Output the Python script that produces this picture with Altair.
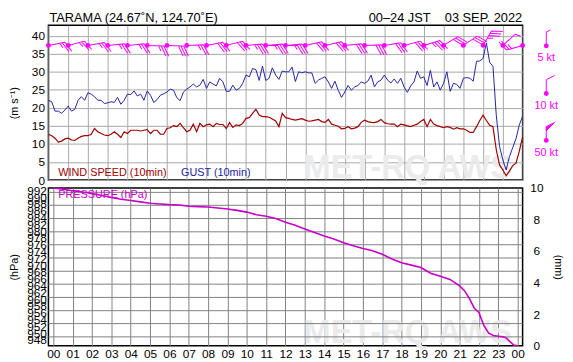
import altair as alt
import pandas as pd

# ---------------- data ----------------
# 10-minute wind speed and gust (m/s), 00:00 .. 24:00
speed = [12.7, 12.3, 11.6, 10.5, 10.8, 11.4, 11.6, 11.1, 11.0, 11.6,
         12.1, 12.3, 12.3, 12.7, 14.3, 13.4, 12.9, 12.5, 12.3, 12.7,
         13.4, 12.7, 11.8, 13.4, 12.9, 13.8, 13.8, 13.8, 13.6, 13.8,
         14.0, 12.9, 13.8, 13.8, 12.7, 12.7, 14.3, 14.5, 15.1, 14.8,
         15.7, 14.5, 13.4, 13.8, 15.5, 13.4, 15.7, 14.8, 15.3, 15.5,
         14.8, 15.7, 15.4, 15.4, 14.3, 15.9, 14.6, 15.3, 15.1, 15.7,
         17.1, 17.3, 18.5, 19.6, 18.0, 17.6, 17.6, 17.4, 16.9, 16.4,
         14.8, 18.5, 17.3, 17.1, 16.8, 16.6, 16.8, 17.0, 16.6, 16.3,
         16.4, 16.6, 16.8, 16.2, 16.0, 16.8, 15.5, 15.2, 14.9, 14.2,
         14.3, 14.8, 14.2, 14.4, 14.8, 16.0, 16.6, 16.2, 16.0, 15.9,
         16.2, 16.8, 15.9, 15.6, 15.5, 15.5, 14.8, 15.5, 15.3, 15.0,
         14.8, 15.2, 15.5, 16.2, 16.8, 14.8, 16.8, 15.5, 15.1, 14.8,
         14.5, 14.8, 14.6, 14.1, 14.5, 14.2, 14.2, 13.8, 13.2, 13.2,
         14.8, 16.5, 18.0, 16.5, 15.2, 14.8, 8.4, 4.2, 2.8, 1.2,
         2.5, 4.0, 4.7, 8.0, 12.0]
gust = [22.1, 21.7, 19.1, 19.1, 18.5, 19.4, 20.5, 19.1, 19.6, 22.1,
        23.1, 22.1, 24.2, 23.8, 23.1, 22.1, 22.1, 21.2, 21.4, 21.7,
        21.5, 22.9, 21.0, 22.1, 23.8, 23.7, 24.7, 23.3, 23.8, 22.1,
        24.7, 23.5, 21.5, 22.3, 23.5, 23.9, 24.4, 25.2, 24.9, 22.8,
        22.0, 24.4, 25.2, 25.8, 26.6, 25.8, 26.3, 27.9, 25.4, 27.2,
        26.6, 26.1, 28.2, 27.2, 24.6, 24.6, 26.3, 24.9, 25.4, 26.8,
        29.1, 28.6, 30.9, 30.6, 27.6, 31.6, 27.6, 28.2, 31.1, 29.1,
        27.9, 30.2, 30.0, 30.0, 31.3, 27.3, 30.0, 29.7, 30.0, 29.7,
        29.7, 26.8, 27.7, 28.2, 28.6, 27.2, 25.4, 27.4, 24.9, 22.9,
        24.4, 26.2, 24.9, 25.8, 26.2, 27.2, 26.8, 27.4, 29.1, 25.8,
        27.2, 27.7, 29.1, 27.7, 26.9, 28.0, 26.8, 28.2, 25.8, 24.3,
        26.1, 27.2, 30.2, 28.2, 28.6, 26.2, 30.4, 25.8, 27.2, 24.9,
        26.8, 30.0, 24.6, 26.8, 26.5, 25.4, 28.2, 28.4, 28.2, 27.4,
        32.9, 33.0, 33.7, 38.0, 32.6, 31.5, 18.0, 9.3, 5.6, 2.8,
        6.5, 9.0, 11.5, 15.3, 17.6]

# hourly wind direction (degrees, direction the wind blows from), 00 .. 24
barb_dir = [79, 75, 80, 84, 84, 92, 92, 88, 79, 75, 85, 85, 85,
            77, 77, 84, 88, 81, 75, 73, 58, 56, 30, 48, 254]

# pressure (hPa)
p_hours = [0, 0.5, 1, 1.5, 2, 2.5, 3, 3.5, 4, 4.5,
           5, 5.5, 6, 6.5, 7, 7.5, 8, 8.5, 9, 9.5,
           10, 10.5, 11, 11.5, 12, 12.5, 13, 13.5, 14, 14.5,
           15, 15.5, 16, 16.5, 17, 17.5, 18, 18.5, 19, 19.5,
           20, 20.5, 21, 21.25, 21.5, 21.75, 22, 22.25, 22.5, 22.75,
           23, 23.25, 23.4, 23.6, 23.8, 24]
pressure = [992.7, 992.3, 991.9, 991.5, 991.1, 990.5, 989.9, 989.4, 989.0, 988.6,
            988.2, 988.0, 987.8, 987.7, 987.3, 987.2, 987.1, 986.8, 986.5, 986.1,
            985.6, 984.8, 984.4, 983.7, 982.6, 981.7, 980.6, 979.6, 978.6, 977.7,
            976.6, 975.7, 974.9, 974.2, 973.2, 971.8, 970.7, 970.0, 969.3, 967.6,
            966.7, 965.8, 963.9, 962.5, 960.2, 957.4, 956.0, 952.3, 950.0, 949.3,
            949.1, 948.9, 948.6, 947.5, 946.5, 946.3]
pressure_grid = [948.9, 952.8, 956.6, 960.5, 964.4, 968.2, 972.1, 976.0, 979.8, 983.7, 987.6, 991.4]

# hourly precipitation (mm) - none recorded
rain_hours = list(range(24))
rain_mm = [0.0] * 24

hour_ticks = list(range(25))
speed_ticks = list(range(0, 45, 5))
pressure_ticks = list(range(948, 993, 2))
rain_ticks = list(range(0, 11, 2))
legend_kt = [5, 10, 50]
legend_text = ["5 kt", "10 kt", "50 kt"]

# ---------------- helpers ----------------
FONT = "Liberation Sans"
MAG = "#ff00ff"
RED = "#a00000"
BLUE = "#2323a8"
PCOL = "#c800c8"
W, H_UP, H_LO = 481, 157, 160


def barb_path(kt):
    """Wind barb glyph: staff along +x (unit length), feathers on the +y side."""
    kt = int(kt / 5.0 + 0.5) * 5
    parts = ["M0,0L1,0"]
    pos = 1.0
    fx, fy = 0.3, 0.6
    for _ in range(kt // 50):
        parts.append(f"M{pos:.3f},0L{pos + fx:.3f},{fy:.3f}L{pos - 0.3:.3f},0Z")
        pos -= 0.36
    rem = kt % 50
    for _ in range(rem // 10):
        parts.append(f"M{pos:.3f},0L{pos + fx:.3f},{fy:.3f}")
        pos -= 0.16
    if rem % 10 >= 5:
        parts.append(f"M{pos:.3f},0L{pos + fx / 2:.3f},{fy / 2:.3f}")
    return "".join(parts)


t10 = [i / 6 for i in range(len(speed))]
wind_df = pd.DataFrame({"t": t10, "speed": speed, "gust": gust})
barb_df = pd.DataFrame({"t": hour_ticks,
                        "speed": [speed[h * 6] for h in hour_ticks],
                        "dir": barb_dir})
barb_df["path"] = [barb_path(v * 1.9438) for v in barb_df["speed"]]
p_df = pd.DataFrame({"t": p_hours, "p": pressure})
grid_df = pd.DataFrame({"p": pressure_grid})
rain_df = pd.DataFrame({"h": rain_hours, "mm": rain_mm})
one = pd.DataFrame({"k": [0]})

xs = alt.Scale(domain=[0, 24], nice=False, zero=False)
ys = alt.Scale(domain=[0, 42.88], nice=False, zero=True)
ps = alt.Scale(domain=[946.3, 992.7], nice=False, zero=False)
rs = alt.Scale(domain=[0, 10], nice=False)

x_axis_up = alt.Axis(values=hour_ticks, labels=False, ticks=False, domain=False,
                     grid=True, gridColor="#a8a8a8", title=None)
y_axis_up = alt.Axis(values=speed_ticks, grid=True, gridColor="#a8a8a8", ticks=False,
                     domain=False, labelPadding=4, labelFontSize=12,
                     title="(m s⁻¹)", titleFontSize=11, titleFontWeight="normal",
                     titlePadding=9, minExtent=20, maxExtent=20)

# ---------------- upper panel ----------------
wm_up = alt.Chart(one).mark_text(text="MET-RQ AWS", fontSize=33, fontWeight="bold",
                                 color="#ebebeb", align="center", baseline="alphabetic").encode(
    x=alt.value(364.5), y=alt.value(155))

gust_line = alt.Chart(wind_df).mark_line(color=BLUE, strokeWidth=1).encode(
    x=alt.X("t:Q", scale=xs, axis=x_axis_up),
    y=alt.Y("gust:Q", scale=ys, axis=y_axis_up))
speed_line = alt.Chart(wind_df).mark_line(color=RED, strokeWidth=1.2).encode(
    x=alt.X("t:Q", scale=xs, axis=x_axis_up),
    y=alt.Y("speed:Q", scale=ys, axis=y_axis_up))

barbs = alt.Chart(barb_df).transform_calculate(
    rot="(datum.dir + 270) % 360").mark_point(
    size=1156, filled=True, fill=MAG, stroke=MAG, strokeWidth=1, opacity=1).encode(
    x=alt.X("t:Q", scale=xs, axis=x_axis_up),
    y=alt.YDatum(37.3, type="quantitative", scale=ys, axis=y_axis_up),
    shape=alt.Shape("path:N", scale=None),
    angle=alt.Angle("rot:Q", scale=None))
dots = alt.Chart(barb_df).mark_circle(size=24, color=MAG, opacity=1).encode(
    x=alt.X("t:Q", scale=xs, axis=x_axis_up),
    y=alt.YDatum(37.3, type="quantitative", scale=ys, axis=y_axis_up))

lab_ws = alt.Chart(one).mark_text(text="WIND SPEED (10min)", fontSize=11, color=RED,
                                  align="left", baseline="middle").encode(
    x=alt.value(10), y=alt.value(149.5))
lab_g = alt.Chart(one).mark_text(text="GUST (10min)", fontSize=11, color=BLUE,
                                 align="left", baseline="middle").encode(
    x=alt.value(134.5), y=alt.value(149.5))

title_l = alt.Chart(one).mark_text(text="TARAMA (24.67˚N, 124.70˚E)", fontSize=13,
                                   color="#000", align="left", baseline="top").encode(
    x=alt.value(1), y=alt.value(-13.5))
title_r = alt.Chart(one).mark_text(text="00–24 JST\u00a0\u00a0\u00a0\u00a003 SEP. 2022",
                                   fontSize=13, color="#000", align="right",
                                   baseline="top").encode(
    x=alt.value(480.5), y=alt.value(-13.5))

legend_layers = []
leg_dot_y = [20.8, 69.2, 116.8]
leg_txt_y = [33.5, 81.8, 129.5]
for kt, txt, dy, ty in zip(legend_kt, legend_text, leg_dot_y, leg_txt_y):
    legend_layers.append(alt.Chart(one).mark_point(
        size=784, filled=True, fill=MAG, stroke=MAG, strokeWidth=1, opacity=1).encode(
        x=alt.value(505), y=alt.value(dy), shape=alt.value(barb_path(kt)),
        angle=alt.value(270)))
    legend_layers.append(alt.Chart(one).mark_circle(size=24, color=MAG, opacity=1).encode(
        x=alt.value(505), y=alt.value(dy)))
    legend_layers.append(alt.Chart(one).mark_text(
        text=txt, fontSize=11, color=MAG, align="center", baseline="middle").encode(
        x=alt.value(505), y=alt.value(ty)))

upper = alt.layer(wm_up, gust_line, speed_line, barbs, dots, lab_ws, lab_g,
                  title_l, title_r, *legend_layers).properties(width=W, height=H_UP)

# ---------------- lower panel ----------------
x_axis_lo = alt.Axis(values=hour_ticks, grid=True, gridColor="#808080", ticks=False,
                     domain=False, labelPadding=3, labelFontSize=12, labelFlush=False,
                     labelOverlap=False,
                     labelExpr="datum.value == 24 ? '00' : (datum.value < 10 ? '0' + datum.value : '' + datum.value)",
                     title=None)
p_axis = alt.Axis(values=pressure_ticks, grid=False, ticks=False, domain=False,
                  labelPadding=2, labelFontSize=12, labelOverlap=False,
                  title="(hPa)", titleFontSize=11, titleFontWeight="normal",
                  titlePadding=7, minExtent=22, maxExtent=22)
r_axis = alt.Axis(orient="right", values=rain_ticks, grid=False, ticks=False, tickSize=0,
                  domain=False, labelAlign="center", labelPadding=14, labelFontSize=12,
                  title="(mm)", titleFontSize=11, titleFontWeight="normal",
                  titlePadding=9.5, minExtent=21, maxExtent=21)

wm_lo = alt.Chart(one).mark_text(text="MET-RQ AWS", fontSize=33, fontWeight="bold",
                                 color="#ebebeb", align="center", baseline="alphabetic").encode(
    x=alt.value(364.5), y=alt.value(157.5))
grid_rules = alt.Chart(grid_df).mark_rule(color="#808080", strokeWidth=1).encode(
    y=alt.Y("p:Q", scale=ps, axis=p_axis))
p_line = alt.Chart(p_df).mark_line(color=PCOL, strokeWidth=1.6).encode(
    x=alt.X("t:Q", scale=xs, axis=x_axis_lo),
    y=alt.Y("p:Q", scale=ps, axis=p_axis))
p_label = alt.Chart(one).mark_text(text="PRESSURE (hPa)", fontSize=11, color=PCOL,
                                   align="left", baseline="middle").encode(
    x=alt.value(10), y=alt.value(7.3))
rain = alt.Chart(rain_df).mark_bar(color="#0000ff").encode(
    x=alt.X("h:Q", scale=xs, axis=x_axis_lo),
    y=alt.Y("mm:Q", scale=rs, axis=r_axis))

lower = alt.layer(alt.layer(wm_lo, grid_rules, p_line, p_label), rain).resolve_scale(
    y="independent").properties(width=W, height=H_LO)

chart = alt.vconcat(upper, lower, spacing=8, bounds="flush").properties(
    padding=0
).configure_view(stroke="#000", strokeWidth=1.5).configure_axis(
    labelFont=FONT, titleFont=FONT, labelColor="#000", titleColor="#000"
).configure_text(font=FONT)

chart.save("out.html", embed_options={"renderer": "svg", "actions": False})
